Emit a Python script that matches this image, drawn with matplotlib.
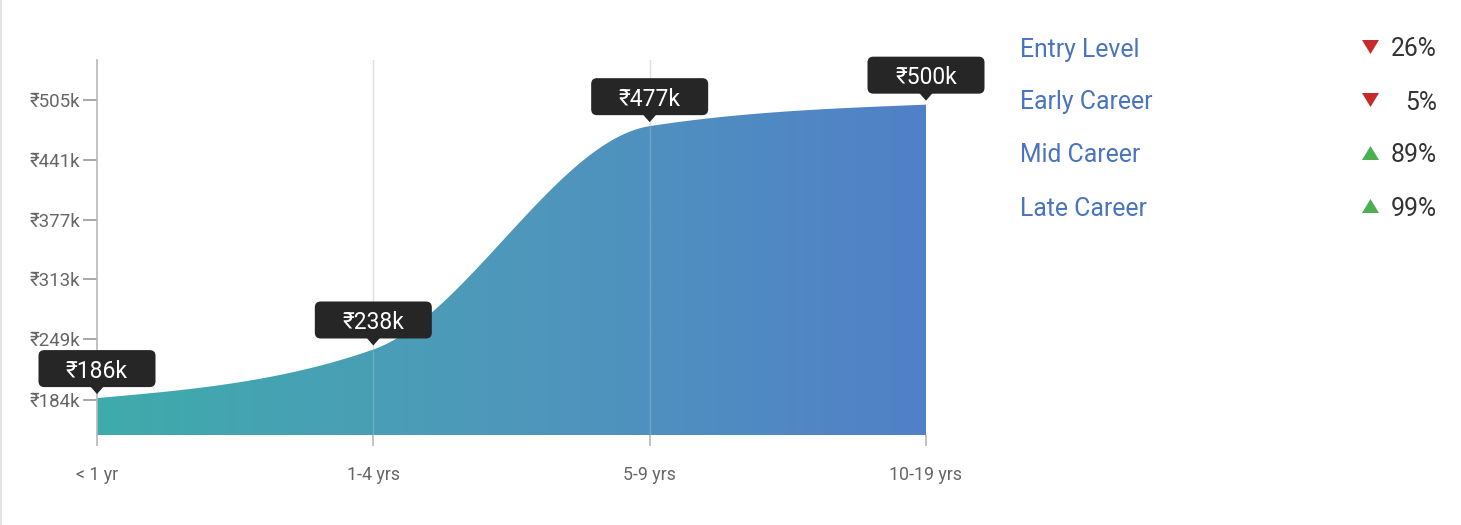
import numpy as np
import matplotlib
matplotlib.use("Agg")
import matplotlib.pyplot as plt
from matplotlib.patches import FancyBboxPatch, Polygon
from matplotlib.lines import Line2D
from matplotlib.colors import LinearSegmentedColormap

plt.rcParams['font.family'] = ['Roboto', 'DejaVu Sans']

# ---- data ----
categories = ["< 1 yr", "1-4 yrs", "5-9 yrs", "10-19 yrs"]
salaries_k = [186, 238, 477, 500]
ytick_values = [184, 249, 313, 377, 441, 505]
legend_labels = ["Entry Level", "Early Career", "Mid Career", "Late Career"]
legend_changes = [-26, -5, 89, 99]

W, H = 1461, 525
fig = plt.figure(figsize=(W / 100, H / 100), dpi=100)
fig.patch.set_facecolor("white")

def px_rect(l, t, r, b):
    return [l / W, 1 - b / H, (r - l) / W, (b - t) / H]

ax = fig.add_axes(px_rect(97, 60, 926, 435))
ax.set_xlim(0, 3)
ax.set_ylim(146.5, 547.8)


# monotone cubic (d3 curveMonotoneX style) for rendering the smooth edge
def monotone_curve(xs, ys, n=400):
    xs = np.asarray(xs, float)
    ys = np.asarray(ys, float)
    m = len(xs)
    t = np.zeros(m)
    for i in range(1, m - 1):
        h0 = xs[i] - xs[i - 1]
        h1 = xs[i + 1] - xs[i]
        s0 = (ys[i] - ys[i - 1]) / h0
        s1 = (ys[i + 1] - ys[i]) / h1
        p = (s0 * h1 + s1 * h0) / (h0 + h1)
        t[i] = (np.sign(s0) + np.sign(s1)) * min(abs(s0), abs(s1), 0.5 * abs(p))
    h = xs[1] - xs[0]
    t[0] = (3 * (ys[1] - ys[0]) / h - t[1]) / 2
    h = xs[-1] - xs[-2]
    t[-1] = (3 * (ys[-1] - ys[-2]) / h - t[-2]) / 2
    out_x, out_y = [], []
    for i in range(m - 1):
        x0, x1 = xs[i], xs[i + 1]
        dx = x1 - x0
        p0 = (x0, ys[i])
        p1 = (x0 + dx / 3, ys[i] + dx * t[i] / 3)
        p2 = (x1 - dx / 3, ys[i + 1] - dx * t[i + 1] / 3)
        p3 = (x1, ys[i + 1])
        u = np.linspace(0, 1, n)
        bx = ((1 - u) ** 3 * p0[0] + 3 * (1 - u) ** 2 * u * p1[0]
              + 3 * (1 - u) * u ** 2 * p2[0] + u ** 3 * p3[0])
        by = ((1 - u) ** 3 * p0[1] + 3 * (1 - u) ** 2 * u * p1[1]
              + 3 * (1 - u) * u ** 2 * p2[1] + u ** 3 * p3[1])
        out_x.append(bx)
        out_y.append(by)
    return np.concatenate(out_x), np.concatenate(out_y)


xpos = np.arange(len(categories))
cx, cy = monotone_curve(xpos, salaries_k)
y0 = ax.get_ylim()[0]

verts = np.column_stack([np.concatenate([cx, [cx[-1], cx[0]]]),
                         np.concatenate([cy, [y0, y0]])])
poly = Polygon(verts, closed=True, facecolor="none", edgecolor="none")
ax.add_patch(poly)

cmap = LinearSegmentedColormap.from_list("g", ["#3fabab", "#4e98bb", "#5180c8"])
grad = np.linspace(0, 1, 512).reshape(1, -1)
im = ax.imshow(grad, cmap=cmap, aspect="auto",
               extent=[0, 3, y0, ax.get_ylim()[1]], origin="lower", zorder=1)
im.set_clip_path(poly)
ax.set_xlim(0, 3)
ax.set_ylim(146.5, 547.8)

# vertical gridlines
for xv in xpos[1:-1]:
    ax.axvline(xv, color="#d9d9d9", lw=1, zorder=0.5)
    ax.axvline(xv, color="#ffffff", lw=1, alpha=0.18, zorder=2)

# spines / ticks
for s in ["top", "right", "bottom"]:
    ax.spines[s].set_visible(False)
ax.spines["left"].set_color("#b8b8b8")
ax.spines["left"].set_linewidth(1.2)
ax.set_xticks(xpos)
ax.set_xticklabels(categories)
ax.set_yticks(ytick_values)
ax.set_yticklabels([f"₹{v}k" for v in ytick_values])
ax.tick_params(axis="x", direction="out", length=8, width=1.2, color="#b8b8b8",
               labelsize=12.8, labelcolor="#666666", pad=14)
ax.tick_params(axis="y", direction="out", length=10, width=1.2, color="#999999",
               labelsize=13.5, labelcolor="#666666", pad=2)
ax.set_facecolor("none")

# tooltips (in pixel space)
fig.canvas.draw()
to_fig = fig.transFigure.inverted()
bw, bh = 117, 37
for xv, val in zip(xpos, salaries_k):
    dx, dy = ax.transData.transform((xv, val))
    # box bottom 11 px above point, tip 5 px above point
    bl = dx - bw / 2
    bb = dy + 11
    (fx, fy) = to_fig.transform((bl, bb))
    (fx2, fy2) = to_fig.transform((bl + bw, bb + bh))
    box = FancyBboxPatch((fx, fy), fx2 - fx, fy2 - fy,
                         boxstyle="round,pad=0,rounding_size=0.004",
                         transform=fig.transFigure, facecolor="#262626",
                         edgecolor="none", zorder=5, mutation_aspect=W / H)
    fig.patches.append(box)
    tri = [to_fig.transform(p) for p in [(dx - 7, bb + 1), (dx + 7, bb + 1), (dx, dy + 4)]]
    fig.patches.append(Polygon(tri, closed=True, transform=fig.transFigure,
                               facecolor="#262626", edgecolor="none", zorder=5))
    tx, ty = to_fig.transform((dx, bb + bh / 2))
    fig.text(tx, ty, f"₹{val}k", color="white", fontsize=16.5,
             ha="center", va="center_baseline", zorder=6)

# legend-like list on the right
row_y = [47, 100, 153, 206]
for lab, ch, ry in zip(legend_labels, legend_changes, row_y):
    fy = 1 - ry / H
    fig.text(1020 / W, fy, lab, color="#4a74bf", fontsize=17.8,
             ha="left", va="center_baseline")
    if ch < 0:
        tri = [(1362, ry - 7), (1379, ry - 7), (1370.5, ry + 7)]
        col = "#c62a2a"
    else:
        tri = [(1362, ry + 7), (1379, ry + 7), (1370.5, ry - 7)]
        col = "#4caf50"
    tri_f = [(x / W, 1 - y / H) for x, y in tri]
    fig.patches.append(Polygon(tri_f, closed=True, transform=fig.transFigure,
                               facecolor=col, edgecolor="none"))
    fig.text(1437 / W, fy, f"{abs(ch)}%", color="#333333", fontsize=17.8,
             ha="right", va="center_baseline")

# faint card border on the left
fig.lines.append(Line2D([1 / W, 1 / W], [0, 1], transform=fig.transFigure,
                        color="#e3e3e3", lw=1.5))

fig.savefig("out.png", dpi=100, facecolor="white")
